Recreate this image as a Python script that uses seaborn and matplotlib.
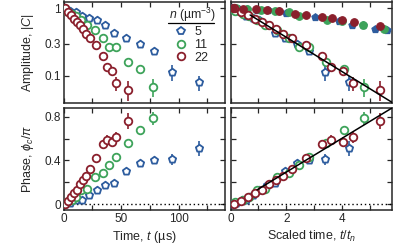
import numpy as np
import matplotlib.pyplot as plt
import seaborn as sns
from matplotlib.lines import Line2D
from matplotlib.ticker import FixedLocator, MultipleLocator, NullFormatter, NullLocator

# data
densities = ['5', '11', '22']
colors = {'5': '#2d5c9e', '11': '#3da35a', '22': '#8a1f2c'}
markers = {'5': 'p', '11': 'o', '22': 'o'}
t_n = {'5': 27.8, '11': 16.3, '22': 10.35}  # us

t_5 = [1.3, 5.6, 10.9, 15.8, 22.4, 28.8, 36.0, 44.1, 54.3, 66.4, 78.6, 93.9, 117.9]
amp_5 = [1.01, 0.92, 0.89, 0.77, 0.71, 0.66, 0.555, 0.425, 0.357, 0.298, 0.236, 0.115, 0.081]
amp_err_5 = [0, 0, 0, 0, 0, 0, 0, 0, 0, 0, 0, 0.03, 0.02]
phase_5 = [0.0, 0.01, 0.04, 0.035, 0.083, 0.128, 0.174, 0.195, 0.30, 0.38, 0.40, 0.41, 0.51]
phase_err_5 = [0, 0, 0, 0, 0, 0, 0, 0, 0.01, 0.015, 0.02, 0.05, 0.07]

t_11 = [2.8, 7.1, 10.9, 15.2, 20.0, 27.3, 34.3, 39.9, 46.0, 55.7, 66.4, 78.0]
amp_11 = [0.92, 0.82, 0.77, 0.67, 0.56, 0.48, 0.36, 0.265, 0.265, 0.163, 0.125, 0.069]
amp_err_11 = [0, 0, 0, 0, 0, 0, 0, 0, 0, 0.008, 0.01, 0.02]
phase_11 = [0.02, 0.04, 0.067, 0.126, 0.135, 0.248, 0.28, 0.36, 0.43, 0.557, 0.68, 0.786]
phase_err_11 = [0, 0, 0, 0, 0, 0, 0, 0, 0.01, 0.02, 0.03, 0.06]

t_22 = [1.3, 3.9, 6.5, 9.1, 11.7, 14.3, 16.9, 19.5, 23.0, 28.0, 34.1, 37.5, 41.9, 45.6, 55.7]
amp_22 = [1.0, 0.88, 0.79, 0.70, 0.63, 0.56, 0.49, 0.42, 0.36, 0.29, 0.195, 0.137, 0.118, 0.079, 0.063]
amp_err_22 = [0, 0, 0, 0, 0, 0, 0, 0, 0, 0, 0.008, 0.012, 0.015, 0.018, 0.02]
phase_22 = [0.0, 0.03, 0.06, 0.1, 0.13, 0.18, 0.22, 0.26, 0.32, 0.42, 0.55, 0.59, 0.57, 0.61, 0.76]
phase_err_22 = [0, 0, 0, 0, 0, 0, 0, 0, 0, 0.01, 0.02, 0.04, 0.04, 0.05, 0.07]

# filled points in the scaled amplitude panel
fill_s_5 = [0.05, 0.3, 0.6, 0.95, 1.35, 1.75, 2.0, 3.05, 3.9, 4.35, 4.75, 5.2, 5.63]
fill_amp_5 = [1.0, 0.98, 0.97, 0.95, 0.93, 0.92, 0.84, 0.74, 0.64, 0.56, 0.57, 0.49, 0.48]
fill_s_11 = [0.2, 0.6, 1.1, 1.6, 2.1, 2.44, 3.46, 4.02, 4.76, 5.5]
fill_amp_11 = [0.99, 0.97, 0.94, 0.92, 0.88, 0.77, 0.67, 0.65, 0.56, 0.50]
fill_s_22 = [0.1, 0.45, 0.9, 1.3, 1.75, 2.32, 2.71, 3.28, 3.64, 4.02, 4.42, 5.38]
fill_amp_22 = [1.0, 0.98, 0.96, 0.95, 0.92, 0.82, 0.80, 0.73, 0.71, 0.66, 0.63, 0.54]

# model lines vs scaled time
line_amp_s = [0.7, 5.8]
line_amp = [0.79, 0.041]
line_phase_s = [0.95, 5.8]
line_phase = [0.13, 0.88]

series = {
    '5': (t_5, amp_5, amp_err_5, phase_5, phase_err_5, fill_s_5, fill_amp_5),
    '11': (t_11, amp_11, amp_err_11, phase_11, phase_err_11, fill_s_11, fill_amp_11),
    '22': (t_22, amp_22, amp_err_22, phase_22, phase_err_22, fill_s_22, fill_amp_22),
}

sns.set_theme(style="ticks")
plt.rcParams['font.family'] = ['Liberation Sans', 'DejaVu Sans']
plt.rcParams['mathtext.fontset'] = 'custom'
plt.rcParams['mathtext.rm'] = 'Liberation Sans'
plt.rcParams['mathtext.it'] = 'Liberation Sans:italic'
plt.rcParams['axes.linewidth'] = 1.1

W, H = 415, 246
fig = plt.figure(figsize=(W / 100, H / 100), dpi=100)
x_l, x_r, w = 63.5, 230.7, 161.2
y_t, y_b = 1.5, 107.5
h_t, h_b = 101.5, 102.5
ax_amp = fig.add_axes([x_l / W, 1 - (y_t + h_t) / H, w / W, h_t / H])
ax_amp_s = fig.add_axes([x_r / W, 1 - (y_t + h_t) / H, w / W, h_t / H])
ax_ph = fig.add_axes([x_l / W, 1 - (y_b + h_b) / H, w / W, h_b / H])
ax_ph_s = fig.add_axes([x_r / W, 1 - (y_b + h_b) / H, w / W, h_b / H])

ms = 30
for n in densities:
    t, amp, amp_err, ph, ph_err, fs, fa = series[n]
    c = colors[n]
    s = np.array(t) / t_n[n]
    for ax, x, y, e in [(ax_amp, t, amp, amp_err), (ax_amp_s, s, amp, amp_err),
                        (ax_ph, t, ph, ph_err), (ax_ph_s, s, ph, ph_err)]:
        ax.errorbar(x, y, yerr=e, fmt='none', ecolor=c, elinewidth=1.2, capsize=0, zorder=2)
        sns.scatterplot(x=x, y=y, ax=ax, marker=markers[n], color='white', edgecolor=c,
                        linewidth=1.3, s=ms, zorder=3)
    sns.scatterplot(x=fs, y=fa, ax=ax_amp_s, marker=markers[n], color=c, edgecolor=c,
                    linewidth=0.8, s=ms, zorder=3)

sns.lineplot(x=line_amp_s, y=line_amp, ax=ax_amp_s, color='black', lw=1.1, zorder=4)
sns.lineplot(x=line_phase_s, y=line_phase, ax=ax_ph_s, color='black', lw=1.1, zorder=4)
for ax in (ax_ph, ax_ph_s):
    ax.axhline(0, color='black', lw=1.0, ls=(0, (1, 2)), zorder=1)

for ax in (ax_amp, ax_amp_s):
    ax.set_yscale('log')
    ax.set_ylim(0.04, 1.25)
    ax.yaxis.set_major_locator(FixedLocator([0.1, 0.3, 1]))
    ax.yaxis.set_minor_locator(NullLocator())
ax_amp.set_yticklabels(['0.1', '0.3', '1'])
for ax in (ax_ph, ax_ph_s):
    ax.set_ylim(-0.055, 0.885)
    ax.yaxis.set_major_locator(MultipleLocator(0.4))
    ax.yaxis.set_minor_locator(MultipleLocator(0.2))
ax_ph.yaxis.set_major_formatter(plt.FuncFormatter(lambda v, p: '0' if abs(v) < 1e-9 else f'{v:.1f}'))
for ax in (ax_amp, ax_ph):
    ax.set_xlim(0, 140)
    ax.xaxis.set_major_locator(MultipleLocator(50))
    ax.xaxis.set_minor_locator(MultipleLocator(25))
for ax in (ax_amp_s, ax_ph_s):
    ax.set_xlim(0, 5.8)
    ax.xaxis.set_major_locator(MultipleLocator(2))
    ax.xaxis.set_minor_locator(MultipleLocator(1))

for ax in (ax_amp, ax_amp_s, ax_ph, ax_ph_s):
    ax.tick_params(which='both', direction='in', top=True, right=True, labelsize=8.5,
                   length=3.5, width=0.9, pad=2)
    ax.set_xlabel('')
    ax.set_ylabel('')
for ax in (ax_amp, ax_amp_s):
    ax.xaxis.set_major_formatter(NullFormatter())
for ax in (ax_amp_s, ax_ph_s):
    ax.yaxis.set_major_formatter(NullFormatter())

ax_amp.set_ylabel('Amplitude, $|C|$', fontsize=9, labelpad=6)
ax_ph.set_ylabel(r'Phase, $\phi_c/\pi$', fontsize=9, labelpad=6)
ax_ph.set_xlabel(r'Time, $t$ (µs)', fontsize=9, labelpad=3)
ax_ph_s.set_xlabel(r'Scaled time, $t/t_n$', fontsize=9, labelpad=3)

# legend: title text with underline, then the entries
handles = [Line2D([], [], ls='none', marker=markers[n], mfc='white', mec=colors[n], mew=1.3, ms=5.5)
           for n in densities]
ax_amp.legend(handles, densities, loc='upper left', bbox_to_anchor=(0.68, 0.755),
              frameon=False, fontsize=9, handletextpad=0.5, labelspacing=0.05,
              handlelength=1.2, borderpad=0.0, borderaxespad=0.0)
ax_amp.text(0.654, 0.867, '$n$ (µm$^{-3}$)', transform=ax_amp.transAxes, fontsize=8.8,
            ha='left', va='center')
ax_amp.plot([0.651, 0.936], [0.785, 0.785], transform=ax_amp.transAxes, color='black', lw=0.9,
            clip_on=False)

fig.savefig('out.png', dpi=100)
